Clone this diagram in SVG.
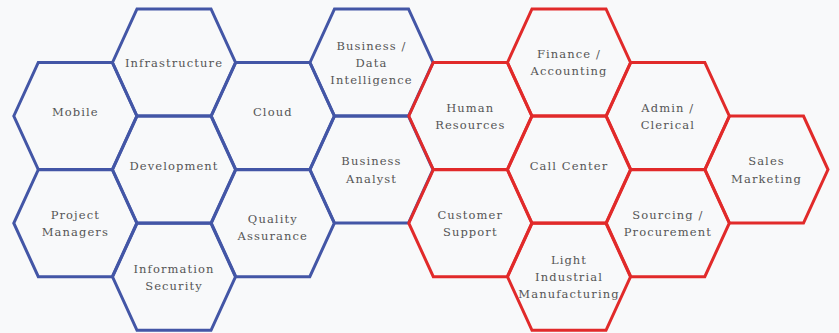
<svg xmlns="http://www.w3.org/2000/svg" xmlns:xlink="http://www.w3.org/1999/xlink" width="839" height="333" viewBox="0 0 839 333">
<style>
.hex{fill:none;stroke-width:3;stroke-linejoin:miter}
.b{stroke:#4356a6}
.r{stroke:#e12a2a}
text{font-family:"DejaVu Serif","Liberation Serif",serif;font-size:11.5px;fill:#555;text-anchor:middle;dominant-baseline:central;letter-spacing:1.1px}
</style>
<defs>
<polygon id="hx" points="-61.5,0 -37,-53.5 37,-53.5 61.5,0 37,53.5 -37,53.5"/>
</defs>
<rect width="839" height="333" fill="#f8f9fa"/>
<g id="mobile"><use href="#hx" class="hex b" x="75.3" y="116"/><text x="75.3" y="112">Mobile</text></g>
<g id="project-managers"><use href="#hx" class="hex b" x="75.3" y="223.2"/><text x="75.3" y="214.7">Project</text><text x="75.3" y="231.7">Managers</text></g>
<g id="infrastructure"><use href="#hx" class="hex b" x="174" y="62.5"/><text x="174" y="63">Infrastructure</text></g>
<g id="development"><use href="#hx" class="hex b" x="174" y="169.6"/><text x="174" y="166">Development</text></g>
<g id="information-security"><use href="#hx" class="hex b" x="174" y="276.8"/><text x="174" y="268.5">Information</text><text x="174" y="285.5">Security</text></g>
<g id="cloud"><use href="#hx" class="hex b" x="272.8" y="116"/><text x="272.8" y="112">Cloud</text></g>
<g id="quality-assurance"><use href="#hx" class="hex b" x="272.8" y="223.2"/><text x="272.8" y="219">Quality</text><text x="272.8" y="236">Assurance</text></g>
<g id="business-data-intelligence"><use href="#hx" class="hex b" x="371.5" y="62.5"/><text x="371.5" y="45.7">Business /</text><text x="371.5" y="63">Data</text><text x="371.5" y="80">Intelligence</text></g>
<g id="business-analyst"><use href="#hx" class="hex b" x="371.5" y="169.6"/><text x="371.5" y="161">Business</text><text x="371.5" y="178.5">Analyst</text></g>
<g id="human-resources"><use href="#hx" class="hex r" x="470.3" y="116"/><text x="470.3" y="107.7">Human</text><text x="470.3" y="125">Resources</text></g>
<g id="customer-support"><use href="#hx" class="hex r" x="470.3" y="223.2"/><text x="470.3" y="215">Customer</text><text x="470.3" y="232">Support</text></g>
<g id="finance-accounting"><use href="#hx" class="hex r" x="569" y="62.5"/><text x="569" y="54.3">Finance /</text><text x="569" y="71">Accounting</text></g>
<g id="call-center"><use href="#hx" class="hex r" x="569" y="169.6"/><text x="569" y="166">Call Center</text></g>
<g id="light-industrial-manufacturing"><use href="#hx" class="hex r" x="569" y="276.8"/><text x="569" y="260">Light</text><text x="569" y="277">Industrial</text><text x="569" y="294">Manufacturing</text></g>
<g id="admin-clerical"><use href="#hx" class="hex r" x="667.8" y="116"/><text x="667.8" y="107.7">Admin /</text><text x="667.8" y="125">Clerical</text></g>
<g id="sourcing-procurement"><use href="#hx" class="hex r" x="667.8" y="223.2"/><text x="667.8" y="215">Sourcing /</text><text x="667.8" y="232">Procurement</text></g>
<g id="sales-marketing"><use href="#hx" class="hex r" x="766.5" y="169.6"/><text x="766.5" y="161">Sales</text><text x="766.5" y="178.5">Marketing</text></g>
<g id="connectors"/>
</svg>
